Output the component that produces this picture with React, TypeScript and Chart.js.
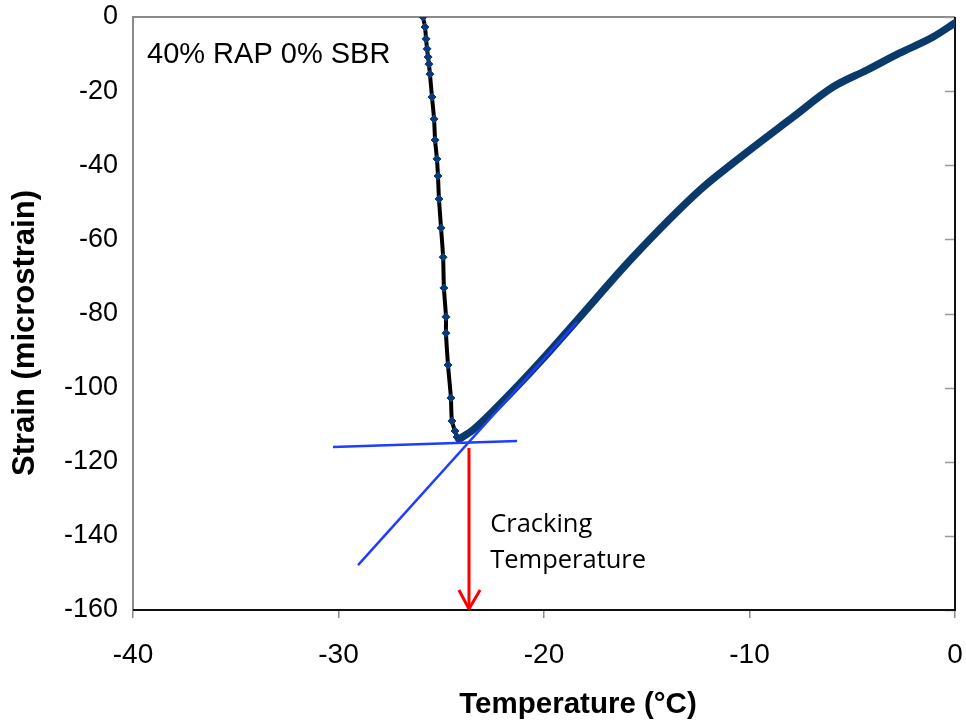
import React, { useEffect, useRef } from "react";
import { Chart, registerables } from "chart.js";

Chart.register(...registerables);

// ---- data ----
// cooling branch (steep part, black line with markers)
const steepTemp = [-25.89, -25.79, -25.74, -25.69, -25.64, -25.6, -25.55, -25.45, -25.35, -25.3, -25.21, -25.16, -25.11, -25.01, -24.91, -24.87, -24.77, -24.77, -24.67, -24.53, -24.48, -24.33, -24.23, -24.14];
const steepStrain = [0, -2.7, -5.9, -8.6, -10.8, -12.7, -15.4, -21.6, -27.5, -33.2, -38.3, -42.9, -49.1, -56.9, -64.8, -73.1, -80.9, -85.3, -93.9, -102.8, -109.0, -111.7, -113.3, -113.9];

// rising branch (thick navy line)
const riseTemp = [-24.14, -23.45, -21.8, -20.2, -18.39, -15.67, -12.41, -10.8, -7.88, -5.94, -4.28, -2.68, -1.07, 0];
const riseStrain = [-113.9, -111.4, -102.5, -93.1, -81.8, -64.8, -46.7, -39.4, -27.0, -18.9, -14.3, -9.7, -5.4, -1.6];

// tangent construction lines
const slopeLineTemp = [-29.05, -18.39];
const slopeLineStrain = [-147.9, -82.3];
const flatLineTemp = [-30.27, -21.31];
const flatLineStrain = [-116.0, -114.4];

// cracking-temperature arrow
const arrowTemp = [-23.65, -23.65];
const arrowStrain = [-116.3, -159.7];
const arrowHeadTemp = [-24.14, -23.65, -23.11];
const arrowHeadStrain = [-154.6, -159.7, -154.6];

// axes
const xMin = -40, xMax = 0, xStep = 10;
const yMin = -160, yMax = 0, yStep = 20;
const xTitle = "Temperature (°C)";
const yTitle = "Strain (microstrain)";
const sampleLabel = "40% RAP 0% SBR";
const arrowLabel = ["Cracking", "Temperature"];

const pts = (xs: number[], ys: number[]) => xs.map((x, i) => ({ x, y: ys[i] }));

const ARIAL = "'Liberation Sans', Arial, sans-serif";

const framePlugin = {
  id: "frame",
  beforeDatasetsDraw(chart: any) {
    const { ctx, chartArea: a, scales } = chart;
    ctx.save();
    // gray left & top
    ctx.strokeStyle = "#8a8a8a";
    ctx.lineWidth = 2;
    ctx.beginPath();
    ctx.moveTo(a.left, a.bottom);
    ctx.lineTo(a.left, a.top);
    ctx.lineTo(a.right, a.top);
    ctx.stroke();
    // right-side inner ticks
    ctx.strokeStyle = "#9a9a9a";
    ctx.lineWidth = 1.5;
    for (let v = yMin; v <= yMax; v += yStep) {
      const y = Math.round(scales.y.getPixelForValue(v)) + 0.5;
      ctx.beginPath();
      ctx.moveTo(a.right - 10, y);
      ctx.lineTo(a.right, y);
      ctx.stroke();
    }
    // black right & bottom
    ctx.strokeStyle = "#111";
    ctx.lineWidth = 2;
    ctx.beginPath();
    ctx.moveTo(a.left, a.bottom);
    ctx.lineTo(a.right, a.bottom);
    ctx.lineTo(a.right, a.top);
    ctx.stroke();
    ctx.restore();
  },
  afterDraw(chart: any) {
    const { ctx, chartArea: a, scales } = chart;
    ctx.save();
    ctx.fillStyle = "#000";
    // axis titles
    ctx.textAlign = "center";
    ctx.textBaseline = "middle";
    ctx.font = `bold 29.5px ${ARIAL}`;
    ctx.fillText(xTitle, 578, 705);
    ctx.save();
    ctx.font = `bold 31px ${ARIAL}`;
    ctx.translate(25, 333);
    ctx.rotate(-Math.PI / 2);
    ctx.fillText(yTitle, 0, 0);
    ctx.restore();
    // sample label
    ctx.font = `29px ${ARIAL}`;
    ctx.textAlign = "left";
    ctx.fillText(sampleLabel, a.left + 14, 55);
    // arrow label
    ctx.font = "25.5px 'Open Sans', sans-serif";
    const lx = scales.x.getPixelForValue(-22.62);
    ctx.fillText(arrowLabel[0], lx, 525);
    ctx.fillText(arrowLabel[1], lx, 561);
    ctx.restore();
  },
};

export default function App() {
  const ref = useRef<HTMLCanvasElement>(null);
  useEffect(() => {
    if (!ref.current) return;
    const chart = new Chart(ref.current, {
      type: "scatter",
      data: {
        datasets: [
          {
            label: "arrow",
            data: pts(arrowTemp, arrowStrain),
            showLine: true,
            borderColor: "#ff0000",
            borderWidth: 3,
            pointRadius: 0,
            order: 0,
          },
          {
            label: "arrowhead",
            data: pts(arrowHeadTemp, arrowHeadStrain),
            showLine: true,
            borderColor: "#ff0000",
            borderWidth: 3,
            pointRadius: 0,
            order: 0,
          },
          {
            label: "slope",
            data: pts(slopeLineTemp, slopeLineStrain),
            showLine: true,
            borderColor: "#1f3dff",
            borderWidth: 2.5,
            pointRadius: 0,
            order: 1,
          },
          {
            label: "flat",
            data: pts(flatLineTemp, flatLineStrain),
            showLine: true,
            borderColor: "#1f3dff",
            borderWidth: 2.5,
            pointRadius: 0,
            order: 1,
          },
          {
            label: "steep",
            data: pts(steepTemp, steepStrain),
            showLine: true,
            borderColor: "#000000",
            borderWidth: 4,
            pointStyle: "rectRot",
            pointRadius: 4,
            pointBackgroundColor: "#0a3a78",
            pointBorderColor: "#0a3a78",
            pointBorderWidth: 1,
            tension: 0.3,
            order: 2,
          },
          {
            label: "rise",
            data: pts(riseTemp, riseStrain),
            showLine: true,
            borderColor: "#0a3a6c",
            borderWidth: 7.5,
            pointRadius: 0,
            cubicInterpolationMode: "monotone",
            borderCapStyle: "round",
            borderJoinStyle: "round",
            order: 3,
          },
        ],
      },
      options: {
        responsive: false,
        animation: false,
        layout: { padding: { top: 17, right: 11, left: 0, bottom: 0 } },
        plugins: { legend: { display: false }, tooltip: { enabled: false } },
        scales: {
          x: {
            type: "linear",
            min: xMin,
            max: xMax,
            ticks: {
              stepSize: xStep,
              color: "#000",
              font: { family: ARIAL, size: 28 },
              padding: 20,
              maxRotation: 0,
            },
            grid: {
              display: true,
              drawOnChartArea: false,
              drawTicks: true,
              tickLength: 8,
              color: "#8a8a8a",
              lineWidth: 1.5,
            },
            border: { display: false },
            afterFit: (s: any) => {
              s.height = 117;
              s.paddingLeft = 0;
              s.paddingRight = 0;
            },
          },
          y: {
            type: "linear",
            min: yMin,
            max: yMax,
            ticks: {
              stepSize: yStep,
              color: "#000",
              font: { family: ARIAL, size: 27 },
              padding: 15,
            },
            grid: { display: false, drawTicks: false },
            border: { display: false },
            afterFit: (s: any) => {
              s.width = 133;
              s.paddingTop = 0;
              s.paddingBottom = 0;
            },
          },
        },
      },
      plugins: [framePlugin],
    } as any);
    return () => chart.destroy();
  }, []);
  return (
    <div style={{ position: "fixed", left: 0, top: 0, width: 966, height: 727, background: "#fff" }}>
      <canvas ref={ref} width={966} height={727} />
    </div>
  );
}
